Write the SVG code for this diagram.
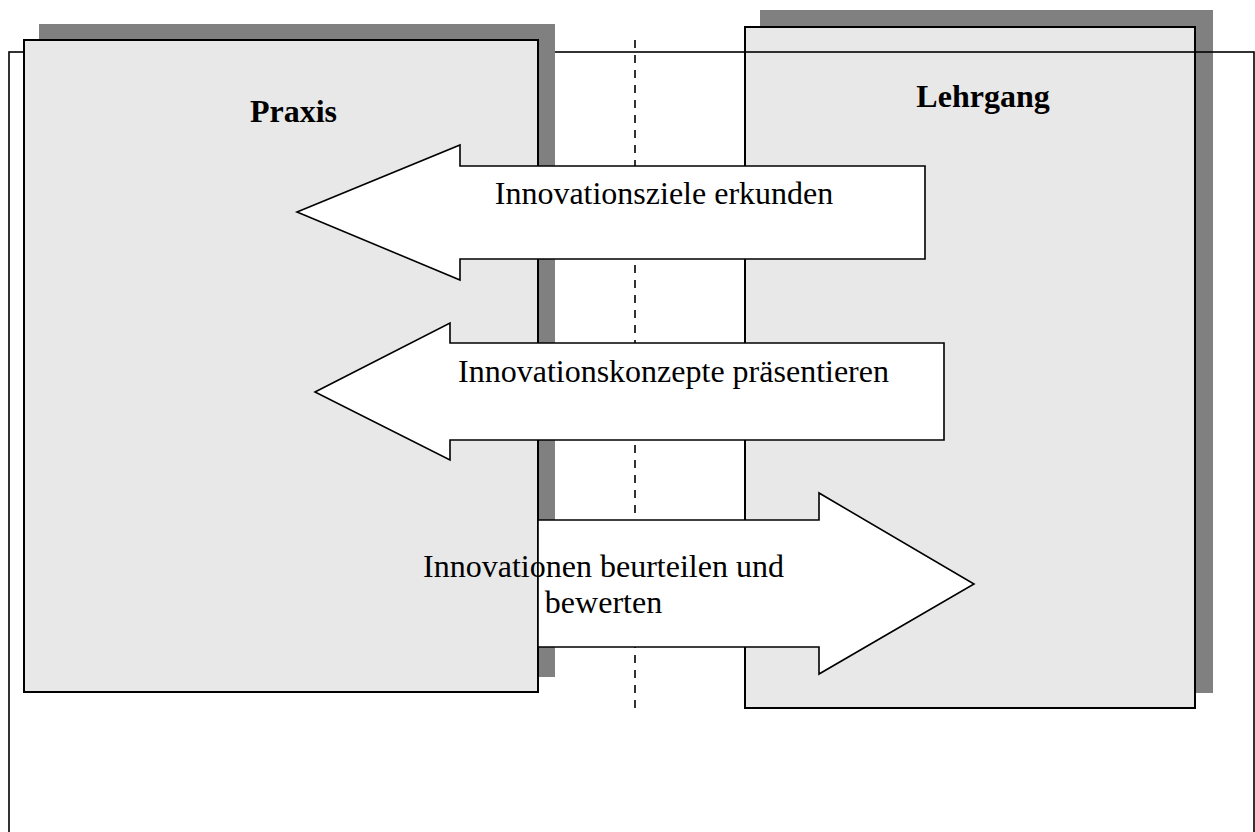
<svg xmlns="http://www.w3.org/2000/svg" width="1255" height="832" viewBox="0 0 1255 832">
<style>
.shadow{fill:#808080;stroke:none}
.box{fill:#e8e8e8;stroke:#000;stroke-width:2}
.frame{fill:none;stroke:#000;stroke-width:1.6}
.arrow{fill:#fff;stroke:#000;stroke-width:1.6;stroke-linejoin:miter}
.title{font-family:"Liberation Serif","Times New Roman",serif;font-size:32px;font-weight:bold;fill:#000;text-anchor:middle}
.lbl{font-family:"Liberation Serif","Times New Roman",serif;font-size:32px;fill:#000;text-anchor:middle}
.dash{stroke:#000;stroke-width:1.6;stroke-dasharray:8 7;fill:none}
</style>
<rect width="1255" height="832" fill="#fff"/>
<g id="lehrgang">
<rect class="shadow" x="760" y="10" width="453" height="683"/>
<rect class="box" x="745" y="27" width="450" height="681"/>
<text class="title" x="983" y="107">Lehrgang</text>
</g>
<g id="frame">
<rect class="frame" x="9" y="52" width="1245" height="800"/>
</g>
<g id="praxis">
<rect class="shadow" x="39" y="24" width="516" height="653"/>
<rect class="box" x="24" y="40" width="514" height="652"/>
<text class="title" x="293.5" y="122">Praxis</text>
</g>
<g id="connectors">
<line class="dash" x1="635" y1="40" x2="635" y2="708"/>
<g id="arrow1">
<polygon class="arrow" points="297,212 460,145 460,166 925,166 925,259 460,259 460,280"/>
<text class="lbl" x="664" y="204">Innovationsziele erkunden</text>
</g>
<g id="arrow2">
<polygon class="arrow" points="315,392 450,323 450,343 944,343 944,440 450,440 450,460"/>
<text class="lbl" x="673.5" y="382">Innovationskonzepte präsentieren</text>
</g>
<g id="arrow3">
<polygon class="arrow" points="538,520 819,520 819,493 974,584 819,674 819,647 538,647"/>
<text class="lbl" x="603.5" y="577">Innovationen beurteilen und</text>
<text class="lbl" x="603.5" y="613">bewerten</text>
</g>
</g>
</svg>
